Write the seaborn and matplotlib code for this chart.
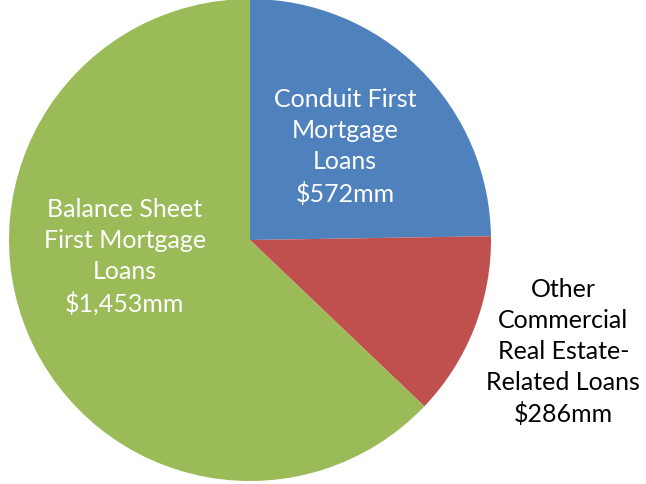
import matplotlib
matplotlib.use('Agg')
import seaborn as sns
import matplotlib.pyplot as plt

labels = ['Conduit First\nMortgage\nLoans\n$572mm',
          'Other\nCommercial\nReal Estate-\nRelated Loans\n$286mm',
          'Balance Sheet\nFirst Mortgage\nLoans\n$1,453mm']
values = [572, 286, 1453]
colors = ['#4F81BD', '#C0504D', '#9BBB59']
text_colors = ['white', 'black', 'white']
# label positions in pie units (radius = 1)
label_pos = [(0.394, 0.39), (1.3, -0.46), (-0.52, -0.065)]

sns.set_style('white')
plt.rcParams['font.family'] = ['Lato', 'DejaVu Sans']

fig = plt.figure(figsize=(6.46, 4.85), dpi=100)
ax = fig.add_axes([9 / 646, 3 / 485, 482 / 646, 482 / 485])
ax.pie(values, colors=colors, startangle=90, counterclock=False,
       wedgeprops={'linewidth': 0})
ax.set_xlim(-1, 1)
ax.set_ylim(-1, 1)
ax.set_aspect('equal')
ax.axis('off')

for lab, (x, y), c in zip(labels, label_pos, text_colors):
    ax.text(x, y, lab, ha='center', va='center', color=c, fontsize=18,
            linespacing=1.42, clip_on=False)

fig.savefig('out.png', dpi=100)
